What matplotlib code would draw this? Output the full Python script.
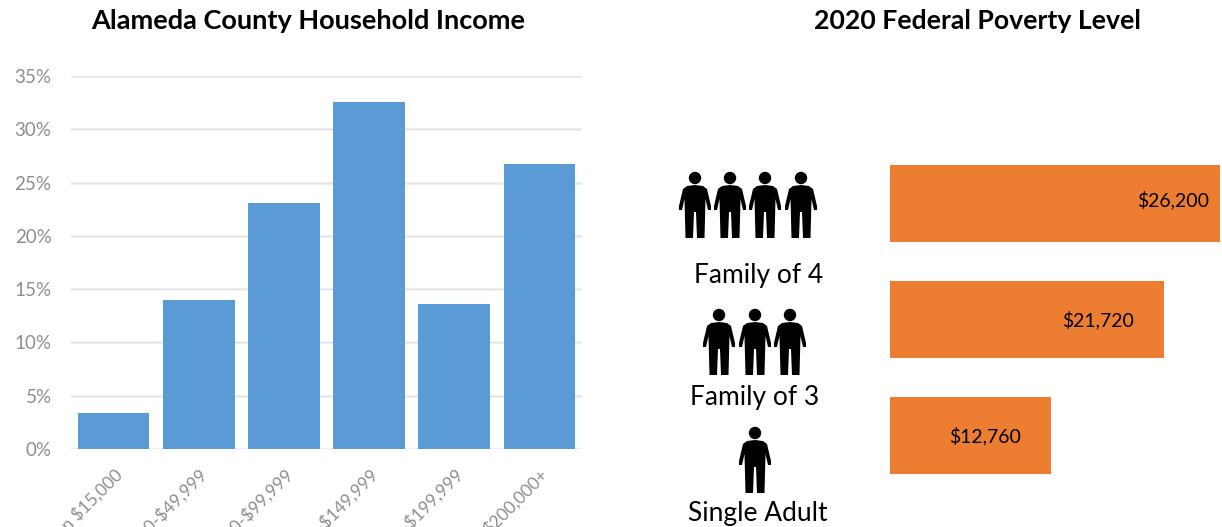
import matplotlib
matplotlib.use("Agg")
import matplotlib.pyplot as plt
from matplotlib.patches import Circle, Polygon

plt.rcParams["font.family"] = ["Lato", "DejaVu Sans"]
plt.rcParams["text.parse_math"] = False

W, H = 1222, 527

income_brackets = ["Less than $15,000", "$15,000-$49,999", "$50,000-$99,999",
                   "$100,000-$149,999", "$150,000-$199,999", "$200,000+"]
income_shares = [3.4, 14.0, 23.1, 32.6, 13.6, 26.7]
pct_ticks = [0, 5, 10, 15, 20, 25, 30, 35]

poverty_groups = ["Family of 4", "Family of 3", "Single Adult"]
poverty_levels = [26200, 21720, 12760]
people_counts = [4, 3, 1]

# right half of a person, as pixel offsets from the top centre of the icon
PERSON_HALF = [(0, 13), (8, 14), (12, 17), (16, 34), (16, 38), (13, 38), (10.5, 27),
               (9.5, 66), (2, 66), (1, 40), (0, 40)]


def axes_box(left, top, right, bottom):
    return [left / W, 1 - bottom / H, (right - left) / W, (bottom - top) / H]


def draw_person(ax, cx, top):
    left_half = [(-x, y) for x, y in reversed(PERSON_HALF)]
    pts = [(cx + x, top + y) for x, y in PERSON_HALF + left_half]
    ax.add_patch(Polygon(pts, closed=True, color="black", lw=0))
    ax.add_patch(Circle((cx, top + 6), 6.2, color="black", lw=0))


fig = plt.figure(figsize=(W / 100, H / 100), dpi=100)

# income histogram
ax1 = fig.add_axes(axes_box(71, 76, 582, 449))
ax1.bar(range(len(income_shares)), income_shares, width=0.84, color="#5b9bd5", zorder=3)
ax1.set_xlim(-0.5, 5.5)
ax1.set_ylim(0, 35)
ax1.set_yticks(pct_ticks)
ax1.set_yticklabels([f"{t}%" for t in pct_ticks], fontsize=13.5, color="#8e8e8e")
ax1.set_xticks(range(len(income_brackets)))
ax1.set_xticklabels(income_brackets, rotation=45, ha="right", rotation_mode="anchor",
                    fontsize=12.5, color="#8e8e8e")
ax1.tick_params(length=0, axis="y", pad=14)
ax1.tick_params(length=0, axis="x", pad=12)
ax1.grid(axis="y", color="#e8e8e8", lw=1.8, zorder=0)
ax1.set_axisbelow(True)
for s in ax1.spines.values():
    s.set_visible(False)

# poverty level bars
ax2 = fig.add_axes(axes_box(890, 165, 1220, 474))
ax2.barh(range(3), poverty_levels, height=77 / 116, color="#ed7d31")
ax2.set_xlim(0, 26200)
ax2.set_ylim(2 + 38.5 / 116, -38.5 / 116)
ax2.axis("off")
label_gaps = [(-11, 3), (-30, -1), (-30, -1)]
for i, v in enumerate(poverty_levels):
    dx, dy = label_gaps[i]
    ax2.annotate(f"${v:,}", (v, i), xytext=(dx * 0.72, dy * 0.72),
                 textcoords="offset points", ha="right", va="center",
                 fontsize=14, color="black")

# everything placed by hand in pixel space: titles, icons, group names
over = fig.add_axes([0, 0, 1, 1])
over.set_xlim(0, W)
over.set_ylim(H, 0)
over.axis("off")
over.patch.set_alpha(0)
over.text(308, 21, "Alameda County Household Income", ha="center", va="center",
          fontsize=19.5, fontweight="bold")
over.text(977, 21, "2020 Federal Poverty Level", ha="center", va="center",
          fontsize=19.2, fontweight="bold")

icon_centres = [[695, 730, 765, 801], [719, 755, 790], [755]]
icon_tops = [172, 309, 427]
name_pos = [(759, 276), (755, 397), (758, 514)]
for n, xs, top, name, (nx, ny) in zip(people_counts, icon_centres, icon_tops, poverty_groups, name_pos):
    for cx in xs[:n]:
        draw_person(over, cx, top)
    over.text(nx, ny, name, ha="center", va="center", fontsize=19)

fig.savefig("out.png", dpi=100)
